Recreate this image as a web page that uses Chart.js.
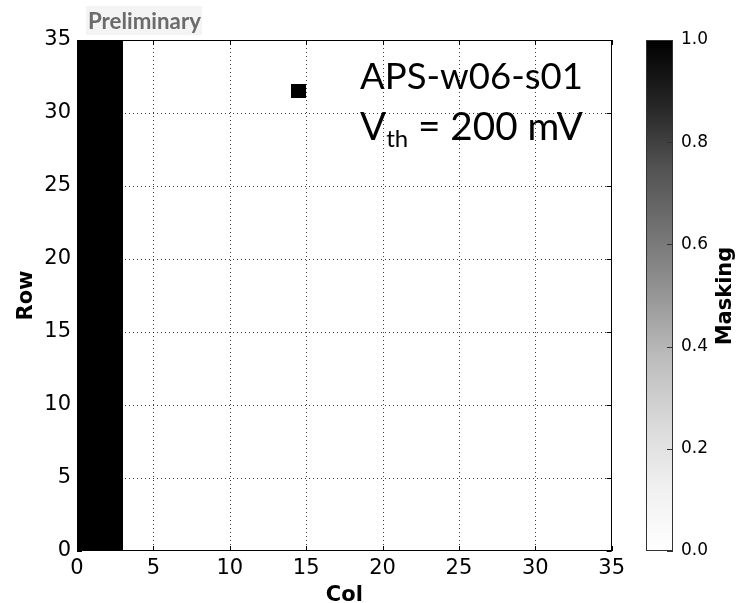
<!DOCTYPE html>
<html>
<head>
<meta charset="utf-8">
<script src="https://cdn.jsdelivr.net/npm/chart.js@4/dist/chart.umd.min.js"></script>
<style>
  html, body { margin:0; padding:0; background:#fff; overflow:hidden; }
  #wrap { position:relative; width:739px; height:603px; }
  #main { position:absolute; left:0; top:0; }
  #cbar { position:absolute; left:630px; top:0; }
</style>
</head>
<body>
<div id="wrap">
  <canvas id="main" width="630" height="603"></canvas>
  <canvas id="cbar" width="109" height="603"></canvas>
</div>
<script>
// ---------------- data ----------------
const nCols = 35;
const nRows = 35;
const maskedColumns = [0, 1, 2];          // fully masked columns (value 1.0)
const maskedPixels = [[14, 31]];          // [col, row] single masked pixels (value 1.0)
const maskValue = 1.0;
const axisTicks = [0, 5, 10, 15, 20, 25, 30, 35];
const colorbarTicks = [0.0, 0.2, 0.4, 0.6, 0.8, 1.0];
const titleLine1 = 'APS-w06-s01';
const titleV = 'V', titleSub = 'th', titleRest = ' = 200 mV';
const stamp = 'Preliminary';
const xTitle = 'Col', yTitle = 'Row', cbTitle = 'Masking';

// matplotlib "Greys" colormap stops
const greys = ['#ffffff','#f0f0f0','#d9d9d9','#bdbdbd','#969696','#737373','#525252','#252525','#000000'];

// build cell list from the masks
const cells = [];
maskedColumns.forEach(c => { for (let r = 0; r < nRows; r++) cells.push({x:c, y:r, v:maskValue}); });
maskedPixels.forEach(p => cells.push({x:p[0], y:p[1], v:maskValue}));

function hexToRgb(h){ return [parseInt(h.slice(1,3),16),parseInt(h.slice(3,5),16),parseInt(h.slice(5,7),16)]; }
function greyColor(v){
  const t = Math.max(0, Math.min(1, v)) * (greys.length - 1);
  const i = Math.min(greys.length - 2, Math.floor(t)), f = t - i;
  const a = hexToRgb(greys[i]), b = hexToRgb(greys[i+1]);
  const c = a.map((x,k)=>Math.round(x + (b[k]-x)*f));
  return `rgb(${c[0]},${c[1]},${c[2]})`;
}

const FONT = "'DejaVu Sans', sans-serif";

// ---------------- plugins ----------------
const heatmapPlugin = {
  id: 'heatmap',
  beforeDatasetsDraw(chart) {
    const {ctx, chartArea, scales:{x, y}} = chart;
    ctx.save();
    // dotted grid from the axis ticks
    ctx.strokeStyle = 'rgba(0,0,0,0.75)';
    ctx.lineWidth = 1;
    ctx.setLineDash([1, 3]);
    x.ticks.forEach(t => {
      if (t.value <= x.min || t.value >= x.max) return;
      const px = Math.round(x.getPixelForValue(t.value)) + 0.5;
      ctx.beginPath(); ctx.moveTo(px, chartArea.top); ctx.lineTo(px, chartArea.bottom); ctx.stroke();
    });
    y.ticks.forEach(t => {
      if (t.value <= y.min || t.value >= y.max) return;
      const py = Math.round(y.getPixelForValue(t.value)) + 0.5;
      ctx.beginPath(); ctx.moveTo(chartArea.left, py); ctx.lineTo(chartArea.right, py); ctx.stroke();
    });
    ctx.setLineDash([]);
    // cells
    chart.data.datasets[0].data.forEach(d => {
      const x0 = Math.round(x.getPixelForValue(d.x)), x1 = Math.round(x.getPixelForValue(d.x + 1));
      const y0 = Math.round(y.getPixelForValue(d.y + 1)), y1 = Math.round(y.getPixelForValue(d.y));
      ctx.fillStyle = greyColor(d.v);
      ctx.fillRect(x0, y0, x1 - x0, y1 - y0);
    });
    ctx.restore();
  },
  afterDraw(chart) {
    const {ctx, chartArea:a, scales:{x, y}} = chart;
    ctx.save();
    // frame
    ctx.strokeStyle = '#000'; ctx.lineWidth = 1;
    ctx.strokeRect(Math.round(a.left) + 0.5, Math.round(a.top) + 0.5, Math.round(a.right - a.left) - 1, Math.round(a.bottom - a.top) - 1);
    // inward ticks on all sides
    const tl = 5;
    x.ticks.forEach(t => {
      const px = Math.round(x.getPixelForValue(t.value)) + 0.5;
      ctx.beginPath(); ctx.moveTo(px, a.bottom); ctx.lineTo(px, a.bottom - tl);
      ctx.moveTo(px, a.top); ctx.lineTo(px, a.top + tl); ctx.stroke();
    });
    y.ticks.forEach(t => {
      const py = Math.round(y.getPixelForValue(t.value)) + 0.5;
      ctx.beginPath(); ctx.moveTo(a.left, py); ctx.lineTo(a.left + tl, py);
      ctx.moveTo(a.right, py); ctx.lineTo(a.right - tl, py); ctx.stroke();
    });
    // annotation text (fit to reference width)
    const fam = "Lato, 'Open Sans', sans-serif";
    const targetW = 223, left = 360;
    let fs = 36;
    ctx.font = `${fs}px ${fam}`;
    fs = fs * targetW / ctx.measureText(titleLine1).width;
    ctx.font = `${fs}px ${fam}`;
    ctx.fillStyle = '#000';
    ctx.textBaseline = 'alphabetic'; ctx.textAlign = 'left';
    ctx.fillText(titleLine1, left, 89);
    // second line with subscript
    let fs2 = 36;
    const measure2 = s => {
      ctx.font = `${s}px ${fam}`; const w1 = ctx.measureText(titleV).width + ctx.measureText(titleRest).width;
      ctx.font = `${s*0.62}px ${fam}`; const w2 = ctx.measureText(titleSub).width;
      return w1 + w2;
    };
    fs2 = fs2 * targetW / measure2(fs2);
    let cx = left;
    ctx.font = `${fs2}px ${fam}`;
    ctx.fillText(titleV, cx, 140); cx += ctx.measureText(titleV).width;
    ctx.font = `${fs2*0.62}px ${fam}`;
    ctx.fillText(titleSub, cx, 147); cx += ctx.measureText(titleSub).width;
    ctx.font = `${fs2}px ${fam}`;
    ctx.fillText(titleRest, cx, 140);
    // Preliminary stamp
    ctx.fillStyle = '#f4f4f4';
    ctx.fillRect(86, 6, 116, 29);
    let fs3 = 18;
    ctx.font = `bold ${fs3}px ${fam}`;
    fs3 = fs3 * 113 / ctx.measureText(stamp).width;
    ctx.font = `bold ${fs3}px ${fam}`;
    ctx.fillStyle = '#6b6b6b';
    ctx.fillText(stamp, 88, 29);
    ctx.restore();
  }
};

const tickFont = {family: FONT, size: 21};
const titleFont = {family: FONT, size: 21, weight: 'bold', lineHeight: 1};

new Chart(document.getElementById('main'), {
  type: 'scatter',
  data: { datasets: [{ data: cells, pointRadius: 0, pointHoverRadius: 0, showLine: false }] },
  options: {
    responsive: false, animation: false, devicePixelRatio: 1,
    events: [],
    layout: { padding: { top: 40, right: 17, bottom: 0, left: 0 } },
    plugins: { legend: { display: false }, tooltip: { enabled: false } },
    scales: {
      x: {
        type: 'linear', min: 0, max: nCols,
        afterBuildTicks: s => { s.ticks = axisTicks.map(v => ({value: v})); },
        afterFit: s => { s.height = 52; },
        ticks: { font: tickFont, color: '#000', padding: 5, maxRotation: 0, autoSkip: false },
        grid: { display: false, drawTicks: false },
        border: { display: false },
        title: { display: true, text: xTitle, font: {...titleFont, lineHeight: 0.7}, color: '#000', padding: {top: 0, bottom: 0} }
      },
      y: {
        type: 'linear', min: 0, max: nRows,
        afterBuildTicks: s => { s.ticks = axisTicks.map(v => ({value: v})); },
        afterFit: s => { s.width = 77; },
        ticks: { font: tickFont, color: '#000', padding: 6, autoSkip: false },
        grid: { display: false, drawTicks: false },
        border: { display: false },
        title: { display: true, text: yTitle, font: titleFont, color: '#000', padding: {top: 16.5, bottom: 0} }
      }
    }
  },
  plugins: [heatmapPlugin]
});

// ---------------- colorbar ----------------
const colorbarPlugin = {
  id: 'colorbar',
  beforeDatasetsDraw(chart) {
    const {ctx, chartArea:a, scales:{y}} = chart;
    ctx.save();
    const g = ctx.createLinearGradient(0, y.getPixelForValue(0), 0, y.getPixelForValue(1));
    greys.forEach((c, i) => g.addColorStop(i / (greys.length - 1), c));
    ctx.fillStyle = g;
    ctx.fillRect(a.left, a.top, a.right - a.left, a.bottom - a.top);
    ctx.strokeStyle = '#333'; ctx.lineWidth = 1;
    ctx.strokeRect(Math.round(a.left) + 0.5, Math.round(a.top) + 0.5, Math.round(a.right - a.left) - 1, Math.round(a.bottom - a.top) - 1);
    y.ticks.forEach(t => {
      const py = Math.round(y.getPixelForValue(t.value)) + 0.5;
      ctx.beginPath(); ctx.moveTo(a.right - 6, py); ctx.lineTo(a.right, py); ctx.stroke();
    });
    // title
    ctx.translate(96, 296);
    ctx.rotate(-Math.PI / 2);
    ctx.font = `bold 21px ${FONT}`;
    ctx.fillStyle = '#000'; ctx.textAlign = 'center'; ctx.textBaseline = 'middle';
    ctx.fillText(cbTitle, 0, 0);
    ctx.restore();
  }
};

new Chart(document.getElementById('cbar'), {
  type: 'scatter',
  data: { datasets: [{ data: [], pointRadius: 0 }] },
  options: {
    responsive: false, animation: false, devicePixelRatio: 1,
    events: [],
    layout: { padding: { top: 40, right: 0, bottom: 52, left: 16 } },
    plugins: { legend: { display: false }, tooltip: { enabled: false } },
    scales: {
      x: { display: false, min: 0, max: 1 },
      y: {
        type: 'linear', position: 'right', min: 0, max: 1,
        afterBuildTicks: s => { s.ticks = colorbarTicks.map(v => ({value: v})); },
        afterFit: s => { s.width = 66; },
        ticks: { font: {family: FONT, size: 17}, color: '#000', padding: 8, callback: v => Number(v).toFixed(1) },
        grid: { display: false, drawTicks: false },
        border: { display: false }
      }
    }
  },
  plugins: [colorbarPlugin]
});
</script>
</body>
</html>
